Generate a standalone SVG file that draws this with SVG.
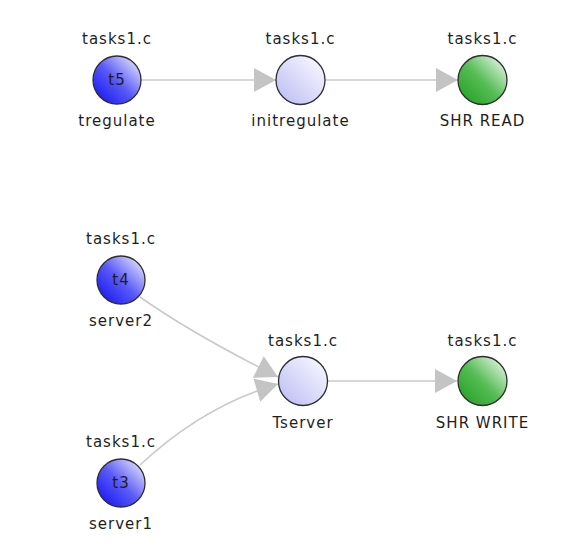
<svg xmlns="http://www.w3.org/2000/svg" width="572" height="559" viewBox="0 0 572 559">
  <style>
    text { font-family: "DejaVu Sans", Verdana, sans-serif; font-size: 15px; fill: #1e1e1e; text-anchor: middle; letter-spacing: 1px; }
    .node circle { stroke: #2e2e2e; stroke-width: 1.3; }
    .task circle { fill: url(#gTask); }
    .func circle { fill: url(#gFunc); }
    .shr circle { fill: url(#gShr); }
    .edge { fill: none; stroke: #cacaca; stroke-width: 1.6; marker-end: url(#arrow); }
  </style>
  <defs>
    <linearGradient id="gTask" x1="0.15" y1="0.85" x2="0.9" y2="0.1">
      <stop offset="0" stop-color="#2323f2"/>
      <stop offset="0.45" stop-color="#5a5af8"/>
      <stop offset="1" stop-color="#dcdcfd"/>
    </linearGradient>
    <linearGradient id="gFunc" x1="0.15" y1="0.85" x2="0.9" y2="0.1">
      <stop offset="0" stop-color="#c4c4f6"/>
      <stop offset="1" stop-color="#f6f6ff"/>
    </linearGradient>
    <linearGradient id="gShr" x1="0.15" y1="0.85" x2="0.9" y2="0.1">
      <stop offset="0" stop-color="#2fa52f"/>
      <stop offset="0.45" stop-color="#55bd55"/>
      <stop offset="1" stop-color="#dcf2dc"/>
    </linearGradient>
    <marker id="arrow" markerUnits="userSpaceOnUse" markerWidth="23" markerHeight="24" refX="22" refY="12" orient="auto" overflow="visible">
      <path d="M0,0 L22,12 L0,24 Z" fill="#c4c4c4"/>
    </marker>
  </defs>

  <g id="connectors">
    <path class="edge" d="M141,80 L276,80"/>
    <path class="edge" d="M325,80 L458,80"/>
    <path class="edge" d="M140,297 Q191,333 278,377"/>
    <path class="edge" d="M140,465 Q203,406 278,384"/>
    <path class="edge" d="M328,381 L457,381"/>
  </g>

  <g id="tregulate" class="node task">
    <text x="117" y="44">tasks1.c</text>
    <circle cx="117" cy="80" r="24"/>
    <text x="117" y="85">t5</text>
    <text x="117" y="126">tregulate</text>
  </g>

  <g id="initregulate" class="node func">
    <text x="300.5" y="44">tasks1.c</text>
    <circle cx="300.5" cy="80" r="24.5"/>
    <text x="300.5" y="126">initregulate</text>
  </g>

  <g id="shr-read" class="node shr">
    <text x="482.5" y="44">tasks1.c</text>
    <circle cx="482.5" cy="80" r="24.5"/>
    <text x="482.5" y="126">SHR READ</text>
  </g>

  <g id="server2" class="node task">
    <text x="121" y="244">tasks1.c</text>
    <circle cx="121" cy="280" r="24"/>
    <text x="121" y="285">t4</text>
    <text x="121" y="326">server2</text>
  </g>

  <g id="tserver" class="node func">
    <text x="303" y="346">tasks1.c</text>
    <circle cx="303" cy="381" r="24.5"/>
    <text x="303" y="428">Tserver</text>
  </g>

  <g id="shr-write" class="node shr">
    <text x="482.5" y="346">tasks1.c</text>
    <circle cx="482.5" cy="381" r="24.5"/>
    <text x="482.5" y="428">SHR WRITE</text>
  </g>

  <g id="server1" class="node task">
    <text x="121" y="447">tasks1.c</text>
    <circle cx="121" cy="483" r="24"/>
    <text x="121" y="488">t3</text>
    <text x="121" y="529">server1</text>
  </g>
</svg>
